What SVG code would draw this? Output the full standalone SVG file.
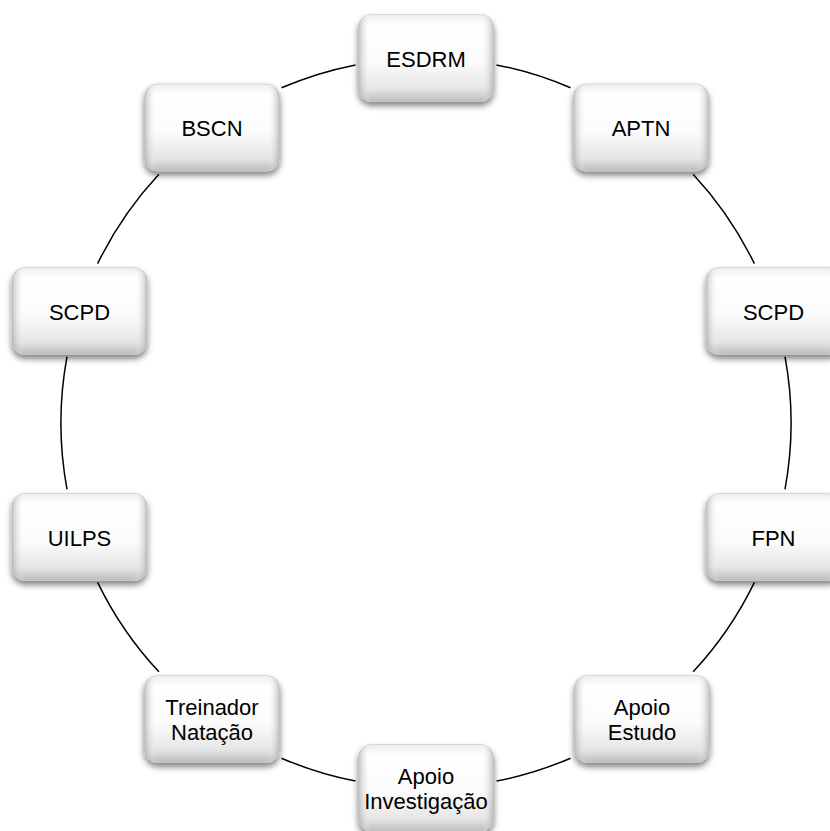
<svg xmlns="http://www.w3.org/2000/svg" width="830" height="831" viewBox="0 0 830 831">
  <defs>
    <linearGradient id="gv" x1="0" y1="0" x2="0" y2="1">
      <stop offset="0" stop-color="#ededed"/>
      <stop offset="0.12" stop-color="#ffffff"/>
      <stop offset="0.55" stop-color="#fbfbfb"/>
      <stop offset="0.85" stop-color="#e6e6e6"/>
      <stop offset="1" stop-color="#bdbdbd"/>
    </linearGradient>
    <linearGradient id="gh" x1="0" y1="0" x2="1" y2="0">
      <stop offset="0" stop-color="#9a9a9a" stop-opacity="0.6"/>
      <stop offset="0.09" stop-color="#ffffff" stop-opacity="0"/>
      <stop offset="0.91" stop-color="#ffffff" stop-opacity="0"/>
      <stop offset="1" stop-color="#9a9a9a" stop-opacity="0.6"/>
    </linearGradient>
    <filter id="sh" x="-20%" y="-20%" width="140%" height="150%">
      <feGaussianBlur in="SourceAlpha" stdDeviation="3"/>
      <feOffset dy="4" result="b"/>
      <feComponentTransfer><feFuncA type="linear" slope="0.5"/></feComponentTransfer>
      <feMerge><feMergeNode/><feMergeNode in="SourceGraphic"/></feMerge>
    </filter>
    <g id="box">
      <rect x="-67.5" y="-43.5" width="135" height="87" rx="13" fill="url(#gv)" stroke="#cccccc" stroke-width="0.75"/>
      <rect x="-67.5" y="-43.5" width="135" height="87" rx="13" fill="url(#gh)"/>
    </g>
  </defs>
  <style>
    .arc{fill:none;stroke:#000;stroke-width:1.5}
    text{font-family:"Liberation Sans",Arial,sans-serif;font-size:22px;fill:#000;text-anchor:middle}
  </style>
  <rect width="830" height="831" fill="#fff"/>
  <g id="connectors">
    <path class="arc" d="M496.5 64.9 A365 365 0 0 1 570.5 87.8"/>
    <path class="arc" d="M693.1 174.2 A365 365 0 0 1 754.4 263.7"/>
    <path class="arc" d="M785 356.7 A365 365 0 0 1 785 489.3"/>
    <path class="arc" d="M754.4 582.3 A365 365 0 0 1 693.1 671.8"/>
    <path class="arc" d="M570.5 758.2 A365 365 0 0 1 496.5 781.1"/>
    <path class="arc" d="M355.5 781.1 A365 365 0 0 1 281.5 758.2"/>
    <path class="arc" d="M158.9 671.8 A365 365 0 0 1 97.6 582.3"/>
    <path class="arc" d="M67 489.3 A365 365 0 0 1 67 356.7"/>
    <path class="arc" d="M97.6 263.7 A365 365 0 0 1 158.9 174.2"/>
    <path class="arc" d="M281.5 87.8 A365 365 0 0 1 355.5 64.9"/>
  </g>
  <g id="n-esdrm" transform="translate(426,58)"><use href="#box" filter="url(#sh)"/><text y="8.5">ESDRM</text></g>
  <g id="n-aptn" transform="translate(641,127.5)"><use href="#box" filter="url(#sh)"/><text y="8.5">APTN</text></g>
  <g id="n-scpd-r" transform="translate(773.5,311)"><use href="#box" filter="url(#sh)"/><text y="8.5">SCPD</text></g>
  <g id="n-fpn" transform="translate(773.5,537)"><use href="#box" filter="url(#sh)"/><text y="8.5">FPN</text></g>
  <g id="n-apoio-estudo" transform="translate(642,719)"><use href="#box" filter="url(#sh)"/><text y="-4"><tspan x="0">Apoio</tspan><tspan x="0" dy="25">Estudo</tspan></text></g>
  <g id="n-apoio-invest" transform="translate(426,788)"><use href="#box" filter="url(#sh)"/><text y="-4"><tspan x="0">Apoio</tspan><tspan x="0" dy="25">Investigação</tspan></text></g>
  <g id="n-treinador" transform="translate(212,719)"><use href="#box" filter="url(#sh)"/><text y="-4"><tspan x="0">Treinador</tspan><tspan x="0" dy="25">Natação</tspan></text></g>
  <g id="n-uilps" transform="translate(79.5,537)"><use href="#box" filter="url(#sh)"/><text y="8.5">UILPS</text></g>
  <g id="n-scpd-l" transform="translate(79.5,311)"><use href="#box" filter="url(#sh)"/><text y="8.5">SCPD</text></g>
  <g id="n-bscn" transform="translate(212,127.5)"><use href="#box" filter="url(#sh)"/><text y="8.5">BSCN</text></g>
</svg>
